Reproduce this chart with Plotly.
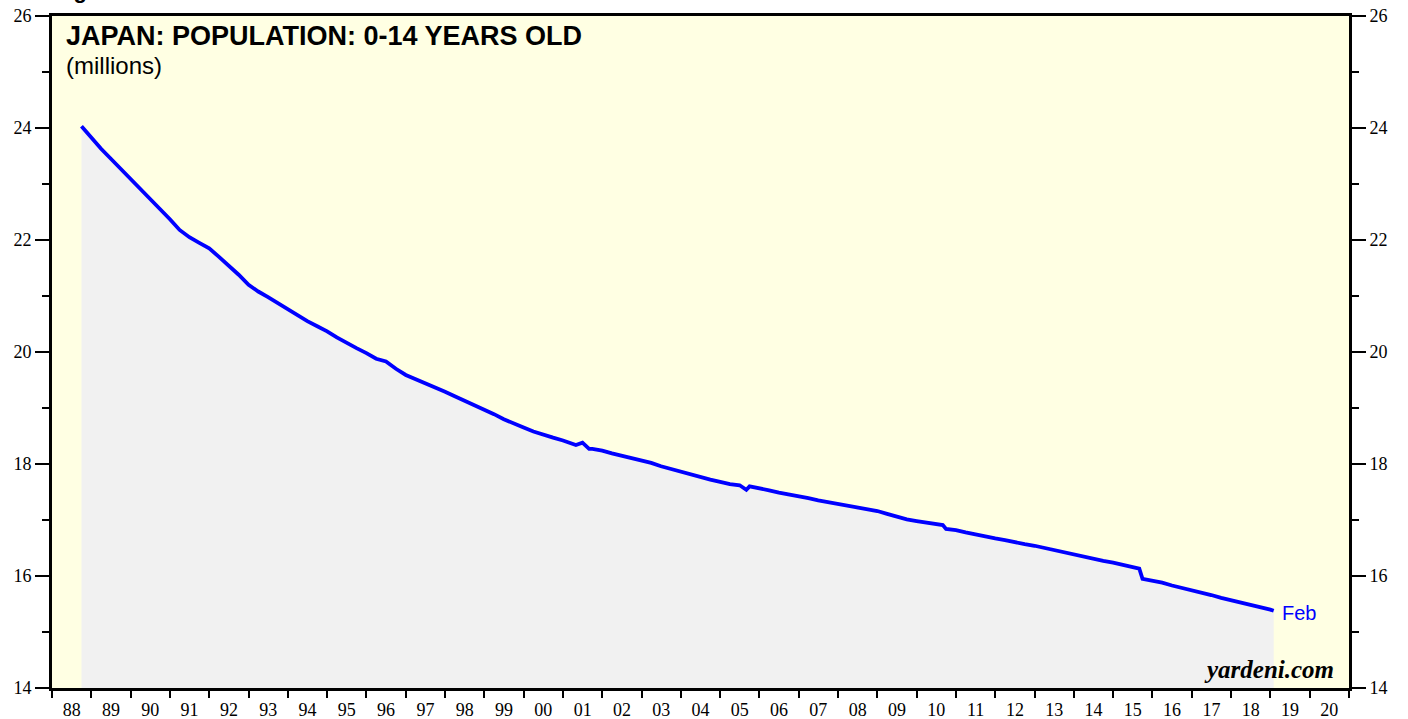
import plotly.graph_objects as go

# Japan population aged 0-14 (millions)
dates = [
    "1988-10-01",
    "1989-01-01", "1989-04-01", "1989-07-01", "1989-10-01",
    "1990-01-01", "1990-04-01", "1990-07-01", "1990-10-01",
    "1991-01-01", "1991-04-01", "1991-07-01", "1991-10-01",
    "1992-01-01", "1992-04-01", "1992-07-01", "1992-10-01",
    "1993-01-01", "1993-04-01", "1993-07-01", "1993-10-01",
    "1994-01-01", "1994-04-01", "1994-07-01", "1994-10-01",
    "1995-01-01", "1995-04-01", "1995-07-01", "1995-10-01",
    "1996-01-01", "1996-04-01", "1996-07-01", "1996-09-01", "1996-10-01",
    "1997-01-01", "1997-04-01", "1997-07-01", "1997-10-01",
    "1998-01-01", "1998-04-01", "1998-07-01", "1998-10-01",
    "1999-01-01", "1999-04-01", "1999-07-01", "1999-10-01",
    "2000-01-01", "2000-04-01", "2000-07-01", "2000-10-01",
    "2001-01-01", "2001-05-01", "2001-07-01", "2001-09-01", "2001-10-01",
    "2002-01-01", "2002-04-01", "2002-07-01", "2002-10-01",
    "2003-01-01", "2003-04-01", "2003-07-01", "2003-10-01",
    "2004-01-01", "2004-04-01", "2004-07-01", "2004-10-01",
    "2005-01-01", "2005-04-01", "2005-07-01", "2005-09-01", "2005-10-01",
    "2006-01-01", "2006-04-01", "2006-07-01", "2006-10-01",
    "2007-01-01", "2007-04-01", "2007-07-01", "2007-10-01",
    "2008-01-01", "2008-04-01", "2008-07-01", "2008-10-01",
    "2009-01-01", "2009-04-01", "2009-07-01", "2009-10-01",
    "2010-01-01", "2010-04-01", "2010-07-01", "2010-09-01", "2010-10-01",
    "2011-01-01", "2011-04-01", "2011-07-01", "2011-10-01",
    "2012-01-01", "2012-04-01", "2012-07-01", "2012-10-01",
    "2013-01-01", "2013-04-01", "2013-07-01", "2013-10-01",
    "2014-01-01", "2014-04-01", "2014-07-01", "2014-10-01",
    "2015-01-01", "2015-04-01", "2015-07-01", "2015-09-01", "2015-10-01",
    "2016-01-01", "2016-04-01", "2016-07-01", "2016-10-01",
    "2017-01-01", "2017-04-01", "2017-07-01", "2017-10-01",
    "2018-01-01", "2018-04-01", "2018-07-01", "2018-10-01",
    "2019-01-01", "2019-02-01",
]
population = [
    24.03,
    23.82, 23.63, 23.45, 23.27,
    23.10, 22.91, 22.73, 22.55,
    22.37, 22.18, 22.05, 21.95,
    21.85, 21.70, 21.55, 21.38,
    21.20, 21.08, 20.98, 20.87,
    20.76, 20.65, 20.55, 20.46,
    20.37, 20.26, 20.16, 20.07,
    19.98, 19.88, 19.83, 19.73, 19.70,
    19.59, 19.52, 19.44, 19.37,
    19.29, 19.21, 19.13, 19.05,
    18.98, 18.89, 18.80, 18.72,
    18.65, 18.58, 18.52, 18.47,
    18.42, 18.34, 18.38, 18.27, 18.27,
    18.24, 18.19, 18.15, 18.11,
    18.07, 18.02, 17.96, 17.91,
    17.86, 17.82, 17.76, 17.72,
    17.68, 17.64, 17.62, 17.54, 17.60,
    17.57, 17.53, 17.49, 17.46,
    17.42, 17.39, 17.35, 17.32,
    17.29, 17.26, 17.23, 17.19,
    17.16, 17.11, 17.06, 17.01,
    16.98, 16.96, 16.93, 16.91, 16.84,
    16.82, 16.78, 16.74, 16.70,
    16.67, 16.64, 16.60, 16.57,
    16.54, 16.50, 16.46, 16.42,
    16.38, 16.35, 16.31, 16.27,
    16.24, 16.20, 16.17, 16.13, 15.95,
    15.92, 15.88, 15.83, 15.79,
    15.75, 15.71, 15.66, 15.61,
    15.57, 15.53, 15.48, 15.44,
    15.40, 15.38,
]

title_text = "JAPAN: POPULATION: 0-14 YEARS OLD"
subtitle_text = "(millions)"
last_label = "Feb"
source_text = "yardeni.com"

serif = "Liberation Serif"
sans = "Liberation Sans"

fig = go.Figure()
fig.add_trace(go.Scatter(
    x=dates, y=population, mode="lines",
    line=dict(color="#0000FF", width=3.8),
    fill="tozeroy", fillcolor="#F1F1F1",
    hoverinfo="x+y", showlegend=False,
))
# invisible trace to activate right axis
fig.add_trace(go.Scatter(
    x=[dates[0]], y=[population[0]], yaxis="y2", mode="markers",
    marker=dict(opacity=0), showlegend=False, hoverinfo="skip",
))

yaxis_common = dict(
    range=[14, 26], tick0=14, dtick=2,
    ticks="outside", ticklen=14, tickwidth=1.5, tickcolor="black",
    minor=dict(dtick=1, tick0=14, ticks="outside", ticklen=7,
               tickwidth=1.5, tickcolor="black", showgrid=False),
    showline=True, linecolor="black", linewidth=3,
    showgrid=False, zeroline=False, automargin=False,
    tickfont=dict(family=serif, size=18, color="black"),
)

fig.update_layout(
    width=1408, height=719,
    margin=dict(l=52, r=59, t=16, b=31),
    paper_bgcolor="white",
    plot_bgcolor="#FFFFE3",
    showlegend=False,
    xaxis=dict(
        type="date",
        range=["1988-01-01", "2021-01-01"],
        tick0="1988-01-01", dtick="M12",
        tickformat="%y", ticklabelmode="period",
        ticks="outside", ticklen=7, tickwidth=2, tickcolor="black",
        ticklabelstandoff=-4,
        showline=True, linecolor="black", linewidth=3, mirror=True,
        showgrid=False, zeroline=False, automargin=False,
        tickfont=dict(family=serif, size=18, color="black"),
    ),
    yaxis=dict(**yaxis_common),
    yaxis2=dict(overlaying="y", side="right", matches="y", **yaxis_common),
)

fig.add_annotation(
    xref="paper", yref="paper", x=0.009, y=0.996, xanchor="left", yanchor="top",
    text="<b>" + title_text + "</b>", showarrow=False,
    font=dict(family=sans, size=27, color="black"),
)
fig.add_annotation(
    xref="paper", yref="paper", x=0.009, y=0.950, xanchor="left", yanchor="top",
    text=subtitle_text, showarrow=False,
    font=dict(family=sans, size=24, color="black"),
)
fig.add_annotation(
    xref="paper", yref="paper", x=0.0, y=1.017, xanchor="left", yanchor="bottom",
    text="<b>Figure 1.</b>", showarrow=False,
    font=dict(family=sans, size=22, color="black"),
)
fig.add_annotation(
    x=dates[-1], y=population[-1], xref="x", yref="y",
    xanchor="left", yanchor="middle", xshift=6, yshift=-2,
    text=last_label, showarrow=False,
    font=dict(family=sans, size=20, color="#0000FF"),
)
fig.add_annotation(
    xref="paper", yref="paper", x=0.990, y=0.004, xanchor="right", yanchor="bottom",
    text="<b><i>" + source_text + "</i></b>", showarrow=False,
    font=dict(family=serif, size=25, color="black"),
)

fig.write_html(
    "out.html",
    config={"displayModeBar": False},
    post_script="document.body.style.margin='0';document.body.style.overflow='hidden';",
)
